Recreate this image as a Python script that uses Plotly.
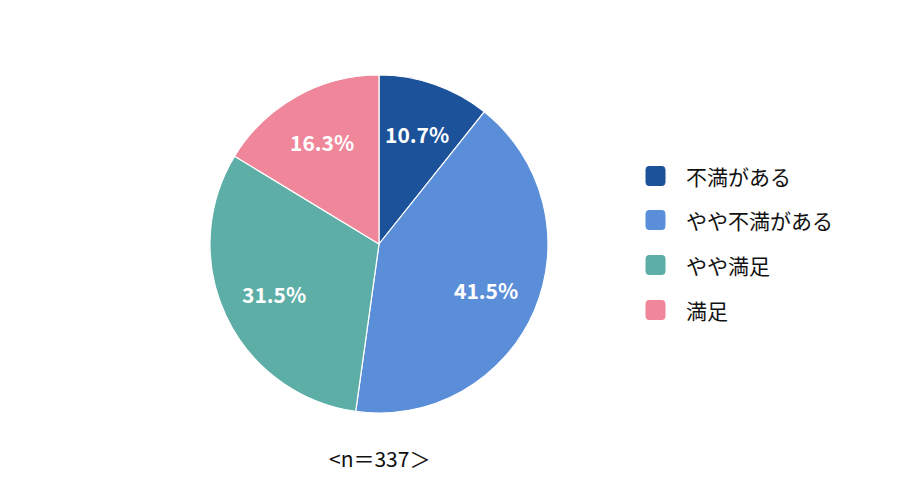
"""
満足度の円グラフ
"""
import math
import plotly.graph_objects as go

W, H = 900, 503
OFF = 8  # ブラウザの body 余白ぶんずらす

# データ
labels = ['不満がある', 'やや不満がある', 'やや満足', '満足']
values = [10.7, 41.5, 31.5, 16.3]
colors = ['#1c5299', '#5b8ed9', '#5daea6', '#f0869a']
note = '<n＝337＞'

FONT = 'Noto Sans CJK JP'

# 円の位置（ピクセル）
CX, CY, R = 379 - OFF, 244 - OFF, 169


def px(x):
    return x / W


def py(y):
    return 1 - y / H


def rounded_square(x0, y0, x1, y1, r):
    # 角丸の四角（ピクセル座標 → paper 座標）
    pts = [
        f'M {px(x0 + r)} {py(y0)}',
        f'L {px(x1 - r)} {py(y0)}',
        f'Q {px(x1)} {py(y0)} {px(x1)} {py(y0 + r)}',
        f'L {px(x1)} {py(y1 - r)}',
        f'Q {px(x1)} {py(y1)} {px(x1 - r)} {py(y1)}',
        f'L {px(x0 + r)} {py(y1)}',
        f'Q {px(x0)} {py(y1)} {px(x0)} {py(y1 - r)}',
        f'L {px(x0)} {py(y0 + r)}',
        f'Q {px(x0)} {py(y0)} {px(x0 + r)} {py(y0)}',
        'Z',
    ]
    return ' '.join(pts)


fig = go.Figure()

# 円グラフ
fig.add_trace(go.Pie(
    labels=labels,
    values=values,
    sort=False,
    direction='clockwise',
    rotation=0,
    marker=dict(colors=colors, line=dict(color='white', width=1.2)),
    textinfo='none',
    showlegend=False,
    hoverinfo='label+percent',
    domain=dict(x=[px(CX - R), px(CX + R)], y=[py(CY + R), py(CY - R)]),
))

annotations = []

# ラベル（割合）を各扇形の中央角に置く
total = sum(values)
cum = 0
for v in values:
    mid = (cum + v / 2) / total * 2 * math.pi
    cum += v
    lx = CX + 0.69 * R * math.sin(mid)
    ly = CY - 0.69 * R * math.cos(mid)
    annotations.append(dict(
        text=f'{v:.1f}%', xref='paper', yref='paper',
        x=px(lx), y=py(ly), xanchor='center', yanchor='middle',
        showarrow=False, font=dict(family=FONT, size=21, color='white', weight='bold'),
    ))

# 凡例（手動で描く）
legend_y = [176, 220, 265, 310]
shapes = []
for lab, col, yy in zip(labels, colors, legend_y):
    yy -= OFF
    shapes.append(dict(
        type='path', xref='paper', yref='paper',
        path=rounded_square(646 - OFF, yy - 9.5, 665 - OFF, yy + 9.5, 3),
        fillcolor=col, line=dict(color=col, width=1),
    ))
    annotations.append(dict(
        text=lab, xref='paper', yref='paper',
        x=px(684 - OFF), y=py(yy), xanchor='left', yanchor='middle',
        showarrow=False, font=dict(family=FONT, size=21, color='#111111'),
    ))

# n 数
annotations.append(dict(
    text=note, xref='paper', yref='paper',
    x=px(379 - OFF), y=py(458 - OFF), xanchor='center', yanchor='middle',
    showarrow=False, font=dict(family=FONT, size=21, color='#111111'),
))

fig.update_layout(
    width=W,
    height=H,
    margin=dict(l=0, r=0, t=0, b=0),
    paper_bgcolor='white',
    plot_bgcolor='white',
    shapes=shapes,
    annotations=annotations,
)

fig.write_html("out.html")
